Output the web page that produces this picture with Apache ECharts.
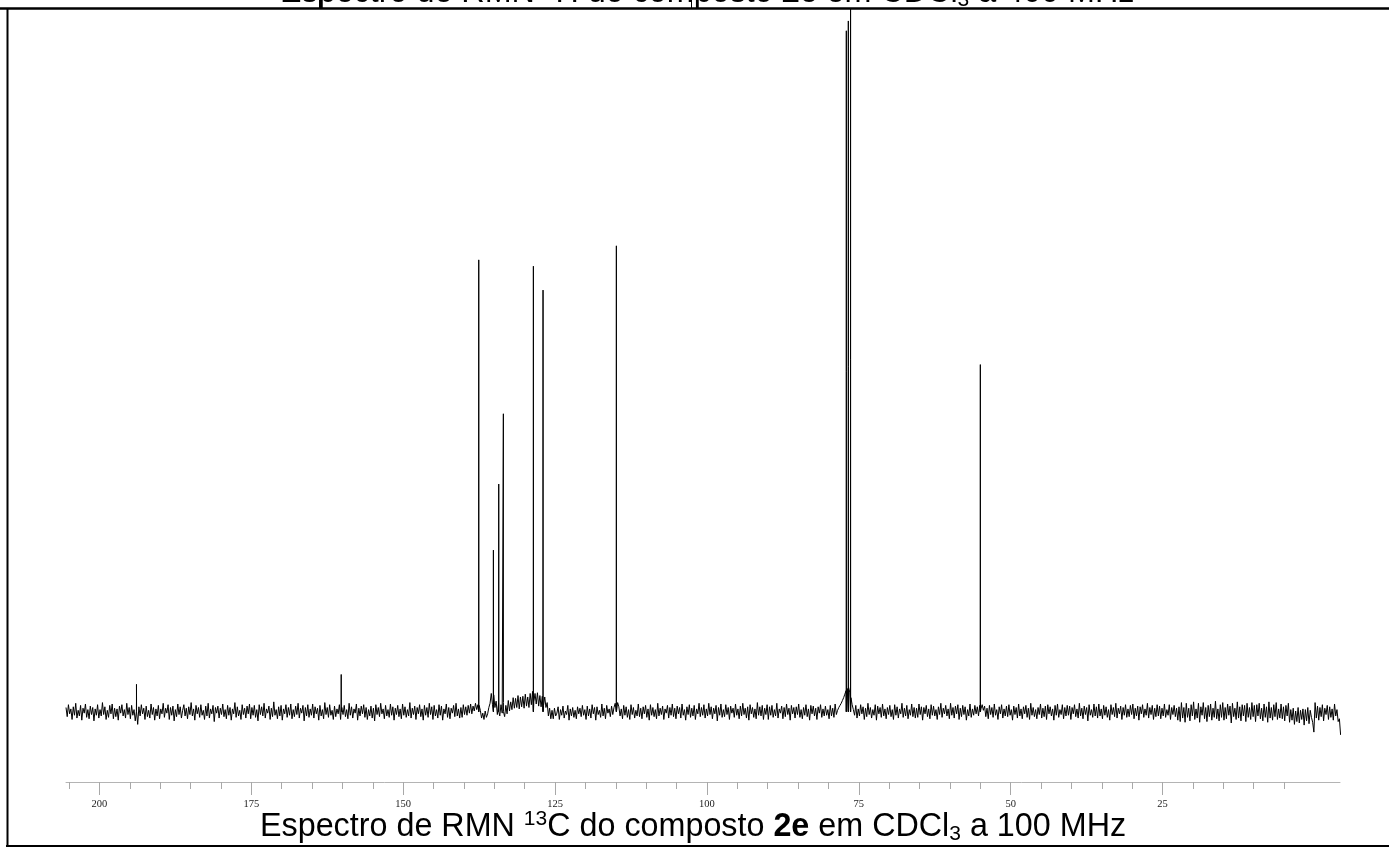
<!DOCTYPE html>
<html>
<head>
<meta charset="utf-8">
<script src="https://cdn.jsdelivr.net/npm/echarts@6/dist/echarts.min.js"></script>
<style>
html,body{margin:0;padding:0;background:#fff;}
#c{width:1389px;height:848px;}
</style>
</head>
<body>
<div id="c"></div>
<script>
// ---- data ----
const titleBottom = '{n|Espectro de RMN }{sup|13}{n|C do composto }{b|2e}{n| em CDCl}{sub|3}{n| a 100 MHz}';
const titleTop = '{n|Espectro de RMN }{sup|1}{n|H do composto }{b|2e}{n| em CDCl}{sub|3}{n| a 400 MHz}';
const majorTicks = [200, 175, 150, 125, 100, 75, 50, 25];
const minorTicks = [205, 195, 190, 185, 180, 170, 165, 160, 155, 145, 140, 135, 130, 120, 115, 110, 105, 95, 90, 85, 80, 70, 65, 60, 55, 45, 40, 35, 30, 20, 15, 10, 5];
const axisMin = -4.2, axisMax = 205.5;

// peak positions (ppm) and heights (arbitrary units, baseline = 0)
const peakPpm    = [193.9, 160.2, 137.56, 135.15, 134.27, 133.51, 128.57, 126.98, 114.91, 77.06, 76.73, 76.36, 55.0];
const peakHeight = [3.9,   5.3,   64.3,   23.0,   32.4,   42.4,   63.4,   60.0,   66.3,   96.9,  98.3,  115,   49.4];

// baseline trace sampled every 0.2 ppm from 205.5 ppm downward
const noiseStartPpm = 205.5, noiseStepPpm = 0.2;
const baselineNoise = [
0.6,-0.7,1.0,-0.3,0.4,-1.1,0.7,-0.5,1.2,-0.9,0.2,-0.6,0.9,-1.2,0.5,-0.2,1.1,-0.8,0.3,-1.0,0.8,-0.4,0.6,-1.3,0.4,
-0.5,1.0,-0.9,0.3,-0.6,1.3,-0.4,0.7,-1.1,0.2,-0.8,0.9,-0.3,1.1,-1.0,0.5,-0.7,0.4,-1.2,0.8,-0.2,1.0,-0.6,0.3,-0.9,
1.2,-0.4,0.6,-1.0,0.9,-0.5,0.3,-1.3,1.4,-1.8,0.7,-0.6,1.0,-0.3,0.5,-1.1,0.8,-0.7,0.2,-0.9,1.1,-0.4,0.6,-1.2,0.4,
-0.6,0.9,-1.0,0.4,-0.3,1.2,-0.8,0.5,-0.2,1.0,-1.1,0.6,-0.5,0.8,-1.3,0.3,-0.7,1.1,-0.4,0.7,-0.9,0.2,1.0,-0.6,0.5,
-1.0,0.7,-0.4,1.3,-0.6,0.4,-1.2,0.9,-0.3,0.6,-0.8,1.0,-0.5,0.2,-1.1,0.8,-0.6,1.2,-0.9,0.4,-0.3,0.9,-1.4,0.6,-0.2,
0.8,-0.9,0.5,-0.4,1.1,-0.7,0.3,-1.0,0.9,-0.5,0.6,-1.2,0.4,-0.3,1.3,-0.8,0.7,-0.6,0.2,-1.1,1.0,-0.4,0.5,-0.9,0.8,
-0.3,1.1,-1.0,0.6,-0.5,0.9,-0.8,0.3,-1.3,1.0,-0.4,0.7,-0.6,1.2,-0.9,0.4,-0.2,0.8,-1.1,0.5,-0.7,1.4,-0.5,0.3,-1.0,
0.7,-0.6,0.9,-1.2,0.4,-0.3,1.0,-0.8,0.6,-0.5,1.1,-1.0,0.3,-0.7,0.8,-0.4,1.2,-0.9,0.5,-0.2,0.9,-1.3,0.6,-0.6,1.0,
-0.8,0.4,-0.5,1.1,-0.9,0.7,-0.3,0.5,-1.2,0.9,-0.6,0.3,-1.0,1.3,-0.4,0.6,-0.8,1.0,-0.5,0.2,-1.1,0.8,-0.7,0.4,-0.3,
1.0,-1.1,0.6,-0.4,0.9,-0.7,0.3,-1.0,1.2,-0.5,0.7,-0.9,0.4,-0.2,1.1,-1.2,0.5,-0.6,0.8,-0.3,1.0,-0.8,0.6,-1.1,0.3,
-0.6,0.8,-0.9,0.5,-1.3,1.0,-0.4,0.6,-0.7,1.2,-0.3,0.4,-1.0,0.9,-0.6,0.3,-0.8,1.1,-0.5,0.7,-1.2,0.5,-0.4,0.9,-0.7,
0.4,-1.0,1.1,-0.5,0.7,-0.8,0.3,-0.6,1.3,-0.9,0.5,-0.4,0.8,-1.1,0.6,-0.3,1.0,-0.7,0.4,-1.2,0.9,-0.5,0.6,-0.8,1.2,
-0.4,0.7,-1.1,0.9,-0.6,0.3,-0.9,1.0,-0.5,0.8,-1.2,0.4,-0.3,1.1,-0.8,0.6,-1.0,0.5,-0.2,0.9,-0.7,1.2,-0.6,0.4,-0.9,
0.6,-0.8,1.0,-0.4,0.7,-0.5,0.9,-0.2,1.1,-0.3,0.8,0.1,1.2,0.3,1.0,0.9,0.2,-0.9,-0.2,-1.1,0.1,-0.8,-0.3,0.6,1.2,
2.6,1.0,2.4,0.6,1.5,-0.4,1.2,-0.6,1.0,-0.2,1.3,-0.7,0.9,-0.3,1.6,0.1,1.4,0.3,2.0,0.5,1.9,0.6,2.3,0.4,2.1,
0.7,2.2,0.5,2.5,0.8,2.1,0.6,2.6,1.0,2.9,1.4,2.6,1.1,2.7,0.8,2.3,0.7,2.2,0.9,2.1,0.6,1.3,-0.6,0.5,-1.0,
0.2,-1.0,0.5,-0.6,-0.2,0.7,-1.1,0.3,-0.5,0.8,-0.9,0.1,-0.4,0.9,-1.2,0.4,-0.6,0.6,-0.8,0.2,-1.0,0.7,-0.3,0.5,-0.7,
0.9,-0.5,0.3,-1.1,0.8,-0.6,0.4,-0.9,1.0,-0.3,0.6,-1.2,0.7,-0.4,0.2,-0.8,1.1,-0.6,0.5,-1.0,0.9,-0.2,0.4,-0.7,0.8,
-0.4,0.6,1.2,0.5,1.3,0.7,-0.6,0.4,-1.0,0.9,-0.5,0.7,-0.8,0.3,-1.1,1.0,-0.4,0.6,-0.9,0.2,-0.6,1.1,-0.7,0.5,-1.0,
0.7,-0.3,0.9,-0.8,0.4,-1.2,1.0,-0.5,0.6,-0.7,0.3,-1.0,1.2,-0.6,0.5,-0.4,0.8,-1.1,0.4,-0.2,0.9,-0.9,0.6,-0.5,1.1,
-0.7,0.5,-1.0,0.8,-0.3,0.6,-0.9,1.1,-0.5,0.3,-1.2,0.7,-0.4,1.0,-0.8,0.5,-0.6,0.9,-1.1,0.4,-0.3,1.2,-0.7,0.6,-0.5,
1.0,-0.9,0.4,-0.6,1.2,-0.4,0.7,-1.0,0.5,-0.3,0.9,-1.3,0.6,-0.5,1.1,-0.8,0.3,-0.7,1.0,-0.4,0.6,-1.1,0.8,-0.2,0.5,
-0.8,1.1,-0.5,0.4,-1.0,0.8,-0.6,1.2,-0.4,0.5,-0.9,0.7,-1.2,1.0,-0.3,0.6,-0.8,0.4,-1.0,1.3,-0.5,0.7,-0.6,0.9,-1.1,
0.5,-0.4,1.0,-1.1,0.7,-0.5,0.9,-0.8,0.3,-0.6,1.2,-0.9,0.4,-0.2,0.8,-1.0,0.6,-0.7,1.1,-0.4,0.5,-1.2,0.9,-0.3,0.6,
-0.9,0.7,-0.4,1.1,-0.8,0.3,-1.0,0.6,-0.5,1.0,-0.7,0.4,-1.2,0.9,-0.3,0.8,-0.6,0.5,-1.1,0.7,-0.2,1.0,-0.8,0.4,-0.6,
0.8,-0.5,0.3,-1.0,0.9,-0.6,0.5,-0.8,1.1,-0.4,0.2,0.6,0.9,1.2,1.6,2.0,2.5,3.0,3.3,3.5,2.8,2.0,1.0,0.3,-0.5,
0.9,-0.9,0.4,-0.6,1.0,-0.3,0.7,-1.1,0.5,-0.7,1.2,-0.4,0.6,-0.9,0.3,-0.5,1.0,-1.2,0.8,-0.3,0.6,-0.8,1.1,-0.6,0.4,
-1.0,0.6,-0.4,0.9,-0.7,0.3,-1.1,1.0,-0.5,0.7,-0.9,0.4,-0.3,1.2,-0.8,0.5,-0.6,0.9,-1.0,0.3,-0.5,1.1,-0.7,0.6,-0.9,
0.5,-0.8,1.1,-0.4,0.7,-1.2,0.6,-0.3,0.9,-0.7,0.4,-1.0,1.0,-0.5,0.8,-0.6,0.3,-1.1,0.7,-0.4,1.2,-0.8,0.5,-0.3,0.9,
-0.6,0.4,-1.0,1.2,-0.5,0.6,-0.9,0.8,-0.3,1.0,-1.1,0.5,-0.7,0.9,-0.4,0.7,-1.2,0.3,-0.6,1.1,-0.8,0.4,-0.5,0.9,-0.3,
0.7,-0.6,0.9,0.4,1.0,0.2,0.8,-0.7,0.5,-1.0,0.9,-0.4,0.6,-0.8,1.1,-0.5,0.3,-1.1,0.7,-0.3,1.0,-0.9,0.4,-0.6,0.8,
-0.7,1.0,-0.5,0.3,-1.2,0.8,-0.4,0.6,-0.9,1.1,-0.6,0.4,-1.0,0.7,-0.3,0.9,-0.8,0.5,-1.1,1.2,-0.5,0.6,-0.7,0.3,-1.0,
0.6,-0.4,1.1,-0.9,0.5,-0.7,0.8,-1.1,1.0,-0.3,0.7,-0.6,0.4,-1.2,0.9,-0.5,1.1,-0.8,0.3,-0.4,1.0,-1.0,0.6,-0.6,0.9,
-0.5,0.8,-1.1,0.6,-0.3,1.0,-0.7,0.4,-0.9,1.2,-0.6,0.5,-1.0,0.8,-0.4,0.6,-1.3,1.0,-0.5,0.3,-0.8,1.1,-0.6,0.7,-0.9,
1.1,-0.6,0.4,-1.0,0.9,-0.5,0.7,-0.8,0.3,-1.2,1.0,-0.4,0.6,-0.7,1.2,-0.9,0.5,-0.3,0.8,-1.1,0.6,-0.5,1.0,-0.8,0.4,
-0.7,0.9,-0.4,1.1,-1.0,0.5,-0.6,0.8,-1.2,0.7,-0.3,1.0,-0.8,0.4,-0.5,1.2,-0.9,0.6,-0.4,0.9,-1.1,0.5,-0.7,1.0,-0.6,
0.8,-1.0,0.5,-0.6,1.1,-0.8,0.3,-0.5,1.0,-1.1,0.6,-0.4,0.9,-0.7,0.5,-1.2,0.7,-1.4,1.3,-0.9,0.6,-1.5,1.2,-0.8,0.5,
-1.3,1.0,-0.6,1.4,-1.1,0.4,-0.9,1.2,-1.5,0.7,-0.5,1.3,-1.0,0.6,-1.4,0.9,-0.7,1.1,-1.2,0.5,-0.8,1.5,-1.0,0.4,-1.3,
1.0,-0.8,1.3,-1.2,0.6,-1.0,1.1,-0.5,0.8,-1.6,1.2,-0.7,0.5,-1.1,1.4,-0.9,0.7,-1.3,1.0,-0.6,0.9,-1.4,1.2,-0.8,0.6,
-1.1,1.3,-0.7,0.9,-1.4,1.0,-0.6,1.2,-1.0,0.5,-1.3,1.1,-0.8,0.7,-1.5,1.4,-0.9,0.6,-1.2,1.0,-0.7,1.3,-1.1,0.4,-0.9,
1.1,-1.0,0.7,-1.3,0.9,-0.6,1.2,-1.5,0.3,-1.2,0.5,-1.8,0.1,-1.4,0.6,-1.6,0.2,-1.1,0.4,-1.9,0.3,-1.3,0.6,-1.7,0.2,
-0.8,-1.5,-2.9,1.3,-0.9,0.8,-1.2,0.6,-0.7,1.0,-1.3,0.5,-0.4,0.9,-1.1,0.7,-0.8,0.4,-1.2,1.1,-0.6,0.3,-1.4,-1.0,-3.3
];

// ---- build the trace ----
const pts = [];
baselineNoise.forEach((v, i) => pts.push([+(noiseStartPpm - i * noiseStepPpm).toFixed(2), v]));
peakPpm.forEach((p, k) => {
  pts.push([p + 0.015, 0]);
  pts.push([p, peakHeight[k]]);
  pts.push([p - 0.015, 0]);
});
pts.sort((a, b) => b[0] - a[0]);

const richStyle = {
  n:   { fontSize: 32.3, fontFamily: 'Liberation Sans', color: '#000', lineHeight: 36 },
  b:   { fontSize: 32.3, fontFamily: 'Liberation Sans', color: '#000', fontWeight: 'bold', lineHeight: 36 },
  sup: { fontSize: 21, fontFamily: 'Liberation Sans', color: '#000', lineHeight: 21, verticalAlign: 'top' },
  sub: { fontSize: 21, fontFamily: 'Liberation Sans', color: '#000', lineHeight: 21, verticalAlign: 'bottom' }
};

const chart = echarts.init(document.getElementById('c'), null, { renderer: 'canvas' });
chart.setOption({
  animation: false,
  backgroundColor: '#fff',
  grid: { left: 66, right: 49, top: 9, bottom: 66, containLabel: false },
  xAxis: [
    {
      type: 'value', inverse: true, min: axisMin, max: axisMax, position: 'bottom',
      axisLine: { show: true, onZero: false, lineStyle: { color: '#b4b4b4', width: 1 } },
      axisTick: { show: true, customValues: majorTicks, length: 13, lineStyle: { color: '#a8a8a8' } },
      axisLabel: { show: true, customValues: majorTicks, margin: 17, fontFamily: 'Liberation Serif', fontSize: 10.5, color: '#222' },
      splitLine: { show: false }
    },
    {
      type: 'value', inverse: true, min: axisMin, max: axisMax, position: 'bottom', gridIndex: 0,
      axisLine: { show: false, onZero: false },
      axisTick: { show: true, customValues: minorTicks, length: 7, lineStyle: { color: '#a8a8a8' } },
      axisLabel: { show: false },
      splitLine: { show: false }
    }
  ],
  yAxis: { type: 'value', min: -10, max: 100, show: false },
  series: [{
    type: 'line', xAxisIndex: 0, data: pts, showSymbol: false, symbol: 'none',
    lineStyle: { color: '#000', width: 1 }, clip: true, silent: true
  }],
  graphic: [
    { type: 'text', left: 280, top: -25, z: 100, style: { text: titleTop, rich: richStyle } },
    { type: 'text', left: 260, top: 809, z: 100, style: { text: titleBottom, rich: richStyle } },
    { type: 'line', z: 101, shape: { x1: 0, y1: 8.5, x2: 1389, y2: 8.5 }, style: { stroke: '#000', lineWidth: 2.5 } },
    { type: 'line', z: 101, shape: { x1: 7.5, y1: 8, x2: 7.5, y2: 847 }, style: { stroke: '#000', lineWidth: 2 } },
    { type: 'line', z: 101, shape: { x1: 6, y1: 846, x2: 1389, y2: 846 }, style: { stroke: '#000', lineWidth: 2 } },
    { type: 'line', z: 101, shape: { x1: 319.5, y1: 0, x2: 319.5, y2: 8 }, style: { stroke: '#000', lineWidth: 1 } },
    { type: 'line', z: 101, shape: { x1: 691.5, y1: 0, x2: 691.5, y2: 8 }, style: { stroke: '#000', lineWidth: 1 } }
  ]
});
</script>
</body>
</html>
